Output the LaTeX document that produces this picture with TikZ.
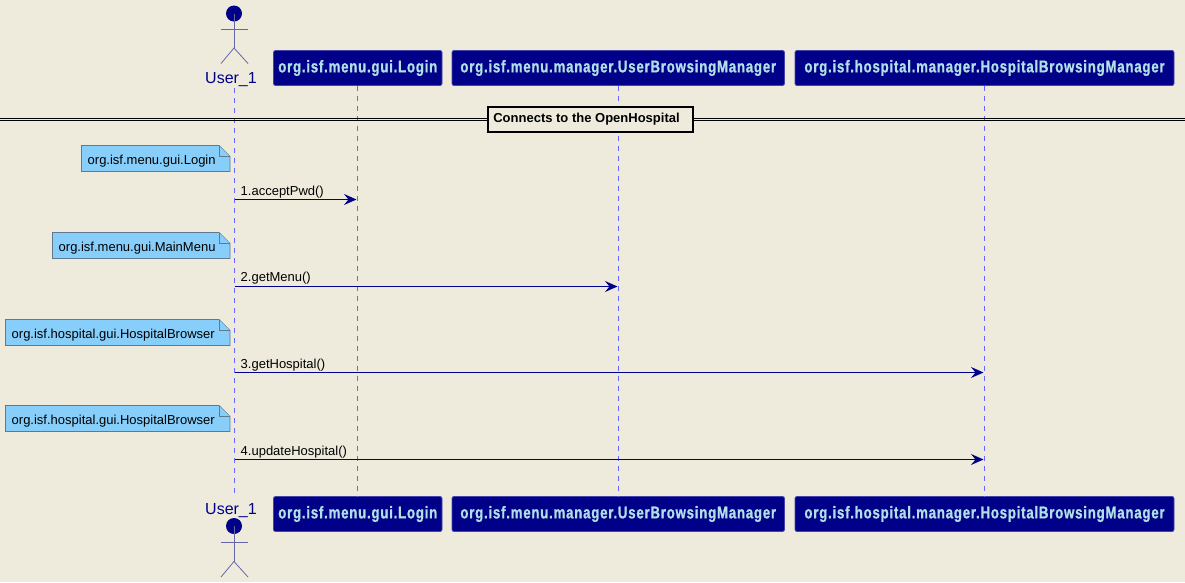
\documentclass[tikz,border=0pt]{standalone}
\usepackage{fontspec}
\setmainfont{Liberation Sans}
\newfontfamily\hdrfont[FakeStretch=0.78,LetterSpace=4.5,FakeBold=1]{Liberation Sans}
\usetikzlibrary{arrows.meta}
\definecolor{bgc}{HTML}{EEEBDC}
\definecolor{navy}{HTML}{000088}
\definecolor{lifec}{HTML}{6666FF}
\definecolor{boxline}{HTML}{4444AA}
\definecolor{hdrtxt}{HTML}{B0E0E6}
\definecolor{notec}{HTML}{87CEFA}
\definecolor{noteline}{HTML}{5F7A8C}
\definecolor{actline}{HTML}{6666AA}
\tikzset{
  x=1pt,y=-1pt,
  hdr/.style={draw=boxline,fill=navy,rounded corners=2pt,line width=0.8pt,minimum height=35pt,inner sep=0pt,text=hdrtxt,font=\hdrfont\bfseries\fontsize{17}{19}\selectfont},
  life/.style={draw=lifec,line width=0.8pt,dash pattern=on 5pt off 5pt},
  msg/.style={draw=navy,line width=1.2pt,-{Stealth[length=12.5pt,width=11pt,inset=4.5pt]},shorten >=0.5pt},
  msglabel/.style={anchor=base west,inner sep=0pt,font=\fontsize{13}{15}\selectfont,text=black},
  notebody/.style={draw=noteline,fill=notec,line width=0.9pt},
  notetext/.style={anchor=base west,inner sep=0pt,font=\fontsize{13}{15}\selectfont,text=black},
  actorlimb/.style={draw=actline,line width=0.8pt},
  actorname/.style={inner sep=0pt,font=\fontsize{16}{18}\selectfont,text=navy,anchor=base},
}
\newcommand{\actorfig}[5]{% name, head y, arm y, hip y, foot y
  \fill[navy] (234,#2) circle (8);
  \draw[actorlimb] (234,#2) -- (234,#4);
  \draw[actorlimb] (221,#3) -- (248,#3);
  \draw[actorlimb] (221,#5) -- (234,#4) -- (248,#5);
}
\newcommand{\notefig}[5]{% name, left, top, bottom, text
  \draw[notebody] (#2,#3) -- (219,#3) -- (230,#3+11) -- (230,#4) -- (#2,#4) -- cycle;
  \draw[notebody] (219,#3) -- (219,#3+11) -- (230,#3+11);
  \node[notetext] (#1) at (#2+6,#3+18.5) {#5};
}
\newcommand{\hdrbox}[6]{% name,left,right,top,bottom,text
  \node[hdr,minimum width=#3-#2] (#1) at ({(#2+#3)/2},{(#4+#5)/2}) {\raisebox{-1.5pt}{#6}};
}
\begin{document}
\begin{tikzpicture}
\useasboundingbox[fill=bgc] (0,0) rectangle (1185,582);
% lifeline ends
\coordinate (ut) at (234.5,88);
\coordinate (ub) at (234.5,494);
% headers
\hdrbox{logint}{273.5}{442}{50.5}{85.5}{org.isf.menu.gui.Login}
\hdrbox{ubmt}{452}{784.5}{50.5}{85.5}{org.isf.menu.manager.UserBrowsingManager}
\hdrbox{hbmt}{795}{1174}{50.5}{85.5}{org.isf.hospital.manager.HospitalBrowsingManager}
\hdrbox{loginb}{273.5}{442}{496.5}{531.5}{org.isf.menu.gui.Login}
\hdrbox{ubmb}{452}{784.5}{496.5}{531.5}{org.isf.menu.manager.UserBrowsingManager}
\hdrbox{hbmb}{795}{1174}{496.5}{531.5}{org.isf.hospital.manager.HospitalBrowsingManager}
% lifelines
\coordinate (lt) at (357,85.5);
\coordinate (lb) at (357,496.5);
\coordinate (mt) at (618,85.5);
\coordinate (mb) at (618,496.5);
\coordinate (ht) at (984,85.5);
\coordinate (hb) at (984,496.5);
\draw[life] (ut) -- (ub);
\draw[life] (lt) -- (lb);
\draw[life] (mt) -- (mb);
\draw[life] (ht) -- (hb);
% actors
\actorfig{a}{13.5}{29.5}{48}{63.5}
\node[actorname] (usert) at (231,83) {User\_1};
\actorfig{b}{526}{542}{561.5}{577}
\node[actorname] (userb) at (231,514) {User\_1};
% divider
\draw[black,line width=1pt] (0,118) -- (1185,118);
\draw[black,line width=1pt] (0,120.5) -- (1185,120.5);
\node[draw=black,fill=bgc,line width=2pt,minimum width=205pt,minimum height=25pt,inner sep=0pt,font=\bfseries\fontsize{13}{15}\selectfont] (dv) at (590,119) {\raisebox{-1pt}{Connects to the OpenHospital}\hspace{7pt}\null};
% notes
\notefig{n1}{81.5}{145.5}{171.5}{org.isf.menu.gui.Login}
\notefig{n2}{52.5}{232.5}{258.5}{org.isf.menu.gui.MainMenu}
\notefig{n3}{5.5}{319.5}{345.5}{org.isf.hospital.gui.HospitalBrowser}
\notefig{n4}{5.5}{405.5}{431.5}{org.isf.hospital.gui.HospitalBrowser}
% messages
\coordinate (s1) at (234.5,199.5); \coordinate (e1) at (357,199.5);
\coordinate (s2) at (234.5,286.5); \coordinate (e2) at (618,286.5);
\coordinate (s3) at (234.5,372.5); \coordinate (e3) at (984,372.5);
\coordinate (s4) at (234.5,459.5); \coordinate (e4) at (984,459.5);
\draw[msg] (s1) -- (e1);
\draw[msg] (s2) -- (e2);
\draw[msg] (s3) -- (e3);
\draw[msg] (s4) -- (e4);
\node[msglabel] (m1) at (240.5,195.5) {1.acceptPwd()};
\node[msglabel] (m2) at (240.5,281) {2.getMenu()};
\node[msglabel] (m3) at (240.5,368.5) {3.getHospital()};
\node[msglabel] (m4) at (240.5,455.5) {4.updateHospital()};
\end{tikzpicture}
\end{document}
